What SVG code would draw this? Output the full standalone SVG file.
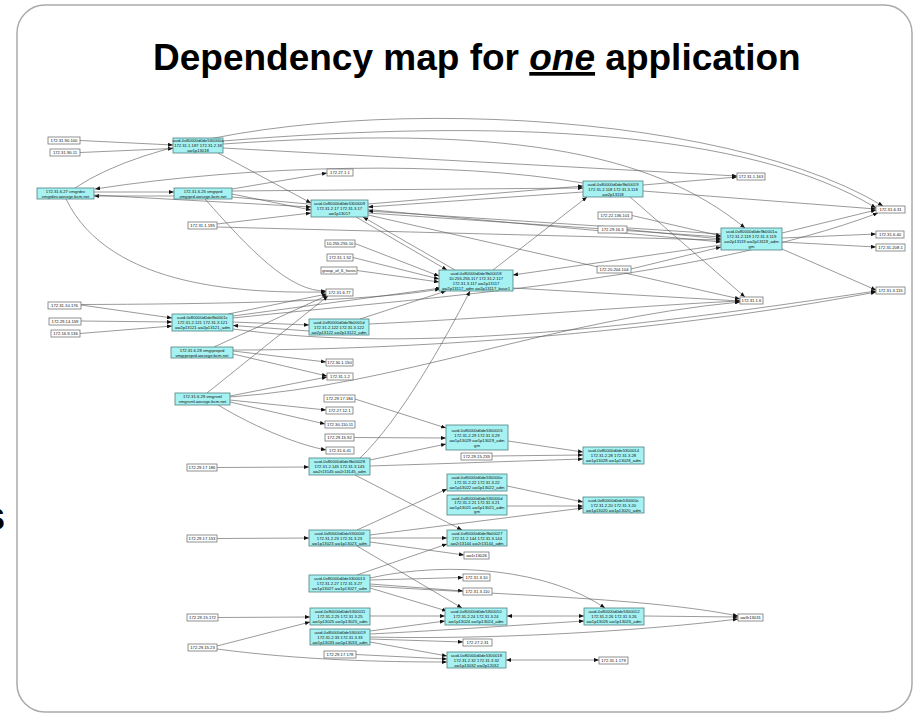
<svg xmlns="http://www.w3.org/2000/svg" width="914" height="715" viewBox="0 0 914 715">
<style>
.e{fill:none;stroke:#555;stroke-width:0.6;marker-end:url(#a)}
.b{marker-start:url(#s)}
.c rect{fill:#a6f1f1;stroke:#4f8282;stroke-width:0.8}
.w rect{fill:#fff;stroke:#777;stroke-width:0.8}
.c text,.w text{font-family:"Liberation Sans",Arial,sans-serif;font-size:4.2px;text-anchor:middle;fill:#111}
.t{font-family:"Liberation Sans",Arial,sans-serif;font-weight:bold;font-size:37px;fill:#000}
</style>
<defs>
<marker id="a" markerUnits="userSpaceOnUse" markerWidth="5" markerHeight="4" refX="5" refY="2" orient="auto"><path d="M0,0 L5,2 L0,4 z" fill="#111"/></marker>
<marker id="s" markerUnits="userSpaceOnUse" markerWidth="5" markerHeight="4" refX="0" refY="2" orient="auto"><path d="M5,0 L0,2 L5,4 z" fill="#111"/></marker>
</defs>
<rect x="0" y="0" width="914" height="715" fill="#fff"/>
<rect x="17" y="5" width="895" height="707" rx="28" fill="#fff" stroke="#aaa" stroke-width="1.5"/>
<text class="t" x="153" y="70">Dependency map for <tspan font-style="italic" text-decoration="underline">one</tspan> application</text>
<text x="-17" y="530" font-family="Liberation Sans, Arial, sans-serif" font-weight="bold" font-size="40">s</text>

<g id="connectors">
<path class="e" d="M80,140.5 L173,145"/>
<path class="e" d="M80,152.5 L173,148.5"/>
<path class="e" d="M218,153 L311,203"/>
<path class="e" d="M223,141 C500,118 750,130 876,208"/>
<path class="e" d="M223,144 C500,125 650,150 745,228"/>
<path class="e" d="M223,148 L737,176"/>
<path class="e" d="M75,188 C220,90 700,95 883,206"/>
<path class="e" d="M583,183 C450,160 250,165 95,189"/>
<path class="e" d="M94,192 L174,192"/>
<path class="e" d="M174,196 L94,196"/>
<path class="e" d="M94,195 L311,207"/>
<path class="e" d="M232,189 L327,173"/>
<path class="e" d="M232,191 L583,188"/>
<path class="e" d="M232,194 L311,210"/>
<path class="e" d="M232,197 L721,242"/>
<path class="e" d="M217,224 L311,213"/>
<path class="e" d="M217,227 L721,240"/>
<path class="e" d="M66,199 C110,290 250,293 326,292"/>
<path class="e" d="M205,199 C250,250 290,292 326,291"/>
<path class="e" d="M368,204 L583,186"/>
<path class="e" d="M583,192 L368,207"/>
<path class="e" d="M721,234 L368,211"/>
<path class="e" d="M368,213 L721,237"/>
<path class="e" d="M356,217 L447,270"/>
<path class="e" d="M455,270 L363,217"/>
<path class="e" d="M368,215 L740,299"/>
<path class="e" d="M355,243.5 L439,276"/>
<path class="e" d="M353,257.5 L439,279"/>
<path class="e" d="M357,270.5 L439,282"/>
<path class="e" d="M493,270 L587,197"/>
<path class="e" d="M721,245 L513,275"/>
<path class="e" d="M513,288 L740,301"/>
<path class="e" d="M632,215.5 L721,236"/>
<path class="e" d="M627,229.5 L721,239"/>
<path class="e" d="M631,269 L721,247"/>
<path class="e" d="M643,185 L737,177"/>
<path class="e" d="M643,191 L876,209"/>
<path class="e" d="M630,197 L745,297"/>
<path class="e" d="M782,233 L876,210"/>
<path class="e" d="M782,238 L876,234"/>
<path class="e" d="M782,242 L876,247"/>
<path class="e" d="M782,249 L876,290"/>
<path class="e" d="M233,318 C420,298 700,280 878,213"/>
<path class="e" d="M81,305 L172,318"/>
<path class="e" d="M81,321 L172,322"/>
<path class="e" d="M80,333.5 L172,326"/>
<path class="e" d="M81,304.5 C250,304 380,300 440,289"/>
<path class="e" d="M233,322 L309,325"/>
<path class="e" d="M309,331 L233,325.5"/>
<path class="e" d="M228,314 L327,294"/>
<path class="e" d="M233,316 L441,288"/>
<path class="e" d="M360,319 L446,291"/>
<path class="e" d="M369,324 C500,318 650,305 740,301"/>
<path class="e" d="M233,329 C420,355 650,325 876,291"/>
<path class="e" d="M214,347 L328,295"/>
<path class="e" d="M233,351 L326,362"/>
<path class="e" d="M233,354 L327,376"/>
<path class="e" d="M233,350 C400,350 650,335 876,292"/>
<path class="e" d="M207,393 L328,296"/>
<path class="e" d="M230,396 L327,377"/>
<path class="e" d="M230,397 C400,385 550,320 740,302"/>
<path class="e" d="M230,400 L326,410"/>
<path class="e" d="M230,402 L325,424"/>
<path class="e" d="M218,405 C260,430 300,445 326,450"/>
<path class="e" d="M355,399 L446,428"/>
<path class="e" d="M354,437.5 L446,438"/>
<path class="e" d="M370,460 L446,444"/>
<path class="e" d="M508,441 L583,452"/>
<path class="e" d="M492,456 L583,455"/>
<path class="e" d="M370,466 L583,459"/>
<path class="e" d="M360,458 C400,420 445,340 470,291"/>
<path class="e" d="M217,467.5 L309,467"/>
<path class="e" d="M355,475 L462,530"/>
<path class="e" d="M217,538.5 L309,538"/>
<path class="e" d="M357,530 L447,489"/>
<path class="e" d="M370,535 L583,508"/>
<path class="e" d="M370,538 L447,538"/>
<path class="e" d="M370,542 L464,555"/>
<path class="e" d="M357,546 L462,608"/>
<path class="e" d="M507,486 L583,502"/>
<path class="e" d="M507,506 L583,506"/>
<path class="e" d="M357,575 L447,544"/>
<path class="e" d="M370,578 C450,560 550,570 605,608"/>
<path class="e" d="M370,580 L463,577.5"/>
<path class="e" d="M370,584 L463,591"/>
<path class="e" d="M370,588 L447,611"/>
<path class="e" d="M370,586 C500,595 650,598 738,616"/>
<path class="e" d="M370,616 L445,616"/>
<path class="e" d="M218,617.5 L310,617"/>
<path class="e" d="M217,646 L310,622"/>
<path class="e" d="M217,649 C300,660 380,662 447,662"/>
<path class="e b" d="M507,616 L584,616"/>
<path class="e" d="M644,616 L738,617"/>
<path class="e" d="M370,631 L445,621"/>
<path class="e" d="M370,634 C450,630 520,625 584,621"/>
<path class="e" d="M370,637 C500,640 650,630 738,619"/>
<path class="e" d="M370,639 L463,642"/>
<path class="e" d="M370,642 L447,656"/>
<path class="e" d="M356,654.5 L447,659"/>
<path class="e b" d="M506,660 L599,660"/>
</g>

<g id="n_a1" class="w"><rect x="48" y="137" width="32" height="7"/><text x="64" y="142">172.31.90.100</text></g>
<g id="n_a2" class="w"><rect x="50" y="149" width="30" height="7"/><text x="65" y="154">172.31.90.11</text></g>
<g id="n_18" class="c"><rect x="173" y="138" width="50" height="15"/><text x="198" y="142">uuid-0x80000d0de530000a</text><text x="198" y="147">172.31.1.187 172.31.2.18</text><text x="198" y="152">aw1p13018</text></g>
<g id="n_dev" class="c"><rect x="37" y="188" width="57" height="11"/><text x="65.5" y="192.5">172.31.6.27 vmgrdev</text><text x="65.5" y="197.5">vmgrdev.awsege.bcm.net</text></g>
<g id="n_prd" class="c"><rect x="174" y="188" width="58" height="11"/><text x="203" y="192.5">172.31.6.25 vmgrprd</text><text x="203" y="197.5">vmgrprd.awsege.bcm.net</text></g>
<g id="n_b195" class="w"><rect x="188" y="222" width="29" height="7"/><text x="202.5" y="227">172.31.1.195</text></g>
<g id="n_17" class="c"><rect x="311" y="200" width="57" height="17"/><text x="339.5" y="205">uuid-0x80000d0de5300009</text><text x="339.5" y="210">172.31.2.17 172.31.3.17</text><text x="339.5" y="215">aw1p13017</text></g>
<g id="n_b271" class="w"><rect x="327" y="169" width="26" height="7"/><text x="340" y="174">172.27.1.1</text></g>
<g id="n_b255" class="w"><rect x="325" y="240" width="30" height="7"/><text x="340" y="245">10.255.255.10</text></g>
<g id="n_b152" class="w"><rect x="327" y="254" width="26" height="7"/><text x="340" y="259">172.31.1.52</text></g>
<g id="n_g6" class="w"><rect x="321" y="267" width="36" height="7"/><text x="339" y="272">group_of_6_hosts</text></g>
<g id="n_b677" class="w"><rect x="326" y="289" width="27" height="7"/><text x="339.5" y="294">172.31.6.77</text></g>
<g id="n_117" class="c"><rect x="439" y="270" width="74" height="21"/><text x="476" y="274.5">uuid-0x80000d0de9b00018</text><text x="476" y="279.5">10.255.255.117 172.31.2.117</text><text x="476" y="284.5">172.31.3.117 aw2p13117</text><text x="476" y="289.5">aw2p13117_adm aw2p13117_base1</text></g>
<g id="n_118" class="c"><rect x="583" y="181" width="60" height="16"/><text x="613" y="185.5">uuid-0x80000d0de9b00019</text><text x="613" y="190.5">172.31.2.118 172.31.3.118</text><text x="613" y="195.5">aw2p13118</text></g>
<g id="n_b163" class="w"><rect x="737" y="173" width="28" height="7"/><text x="751" y="178">172.31.1.163</text></g>
<g id="n_b136" class="w"><rect x="598" y="212" width="34" height="7"/><text x="615" y="217">172.22.136.101</text></g>
<g id="n_b163b" class="w"><rect x="598" y="226" width="29" height="7"/><text x="612.5" y="231">172.29.16.3</text></g>
<g id="n_119" class="c"><rect x="721" y="228" width="61" height="22"/><text x="751.5" y="233">uuid-0x80000d0de9b0001a</text><text x="751.5" y="238">172.31.2.119 172.31.3.119</text><text x="751.5" y="243">aw2p13119 aw2p13119_adm</text><text x="751.5" y="248">gm</text></g>
<g id="n_b204" class="w"><rect x="597" y="266" width="34" height="7"/><text x="614" y="271">172.20.204.104</text></g>
<g id="n_b631" class="w"><rect x="876" y="206" width="29" height="7"/><text x="890.5" y="211">172.31.6.31</text></g>
<g id="n_b640" class="w"><rect x="876" y="231" width="28" height="7"/><text x="890" y="236">172.31.6.40</text></g>
<g id="n_b208" class="w"><rect x="876" y="244" width="29" height="7"/><text x="890.5" y="249">172.31.208.1</text></g>
<g id="n_b3115" class="w"><rect x="876" y="287" width="29" height="7"/><text x="890.5" y="292">172.31.3.115</text></g>
<g id="n_b16" class="w"><rect x="740" y="297" width="23" height="7"/><text x="751.5" y="302">172.31.1.6</text></g>
<g id="n_b10176" class="w"><rect x="48" y="302" width="33" height="7"/><text x="64.5" y="307">172.31.10.176</text></g>
<g id="n_b14159" class="w"><rect x="49" y="318" width="32" height="7"/><text x="65" y="323">172.29.14.159</text></g>
<g id="n_b9136" class="w"><rect x="51" y="330" width="29" height="7"/><text x="65.5" y="335">172.16.9.136</text></g>
<g id="n_121" class="c"><rect x="172" y="314" width="61" height="17"/><text x="202.5" y="319">uuid-0x80000d0de9b0001c</text><text x="202.5" y="324">172.31.2.121 172.31.3.121</text><text x="202.5" y="329">aw2p13121 aw2p13121_adm</text></g>
<g id="n_122" class="c"><rect x="309" y="319" width="60" height="16"/><text x="339" y="323.5">uuid-0x80000d0de9b0001d</text><text x="339" y="328.5">172.31.2.122 172.31.3.122</text><text x="339" y="333.5">aw2p13122 aw2p13122_adm</text></g>
<g id="n_preprd" class="c"><rect x="171" y="347" width="62" height="11"/><text x="202" y="351.5">172.31.6.28 vmgrpreprd</text><text x="202" y="356.5">vmgrpreprd.awsege.bcm.net</text></g>
<g id="n_b150" class="w"><rect x="326" y="359" width="27" height="7"/><text x="339.5" y="364">172.30.1.150</text></g>
<g id="n_b12" class="w"><rect x="327" y="373" width="26" height="7"/><text x="340" y="378">172.31.1.2</text></g>
<g id="n_sml" class="c"><rect x="175" y="393" width="55" height="12"/><text x="202.5" y="397.5">172.31.6.29 vmgrsml</text><text x="202.5" y="402.5">vmgrsml.awsege.bcm.net</text></g>
<g id="n_b184" class="w"><rect x="324" y="395" width="31" height="7"/><text x="339.5" y="400">172.29.17.184</text></g>
<g id="n_b1221" class="w"><rect x="326" y="407" width="27" height="7"/><text x="339.5" y="412">172.27.12.1</text></g>
<g id="n_b110" class="w"><rect x="325" y="421" width="30" height="7"/><text x="340" y="426">172.30.110.11</text></g>
<g id="n_b1592" class="w"><rect x="325" y="434" width="29" height="7"/><text x="339.5" y="439">172.29.15.92</text></g>
<g id="n_29" class="c"><rect x="446" y="425" width="62" height="25"/><text x="477" y="432">uuid-0x80000d0de5300015</text><text x="477" y="437">172.31.2.29 172.31.3.29</text><text x="477" y="442">aw1p13029 aw1p13029_adm</text><text x="477" y="447">gm</text></g>
<g id="n_b641" class="w"><rect x="326" y="447" width="28" height="7"/><text x="340" y="452">172.31.6.41</text></g>
<g id="n_b233" class="w"><rect x="461" y="453" width="31" height="7"/><text x="476.5" y="458">172.29.15.233</text></g>
<g id="n_28" class="c"><rect x="583" y="447" width="61" height="17"/><text x="613.5" y="452">uuid-0x80000d0de5300014</text><text x="613.5" y="457">172.31.2.28 172.31.3.28</text><text x="613.5" y="462">aw1p13028 aw1p13028_adm</text></g>
<g id="n_b186" class="w"><rect x="187" y="464" width="30" height="7"/><text x="202" y="469">172.29.17.186</text></g>
<g id="n_145" class="c"><rect x="309" y="458" width="61" height="17"/><text x="339.5" y="463">uuid-0x80000d0de9b00028</text><text x="339.5" y="468">172.31.2.145 172.31.3.145</text><text x="339.5" y="473">aw2r13145 aw2r13145_adm</text></g>
<g id="n_22" class="c"><rect x="447" y="474" width="60" height="17"/><text x="477" y="479">uuid-0x80000d0de530000e</text><text x="477" y="484">172.31.2.22 172.31.3.22</text><text x="477" y="489">aw1p13022 aw1p13022_adm</text></g>
<g id="n_21" class="c"><rect x="447" y="495" width="60" height="20"/><text x="477" y="499.6">uuid-0x80000d0de530000d</text><text x="477" y="504.2">172.31.2.21 172.31.3.21</text><text x="477" y="508.8">aw1p13021 aw1p13021_adm</text><text x="477" y="513.2">gm</text></g>
<g id="n_20" class="c"><rect x="583" y="497" width="61" height="16"/><text x="613.5" y="501.5">uuid-0x80000d0de530000c</text><text x="613.5" y="506.5">172.31.2.20 172.31.3.20</text><text x="613.5" y="511.5">aw1p13020 aw1p13020_adm</text></g>
<g id="n_b153" class="w"><rect x="187" y="535" width="30" height="7"/><text x="202" y="540">172.29.17.153</text></g>
<g id="n_23" class="c"><rect x="309" y="530" width="61" height="16"/><text x="339.5" y="534.5">uuid-0x80000d0de530000f</text><text x="339.5" y="539.5">172.31.2.23 172.31.3.23</text><text x="339.5" y="544.5">aw1p13023 aw1p13023_adm</text></g>
<g id="n_144" class="c"><rect x="447" y="530" width="60" height="16"/><text x="477" y="534.5">uuid-0x80000d0de9b00027</text><text x="477" y="539.5">172.31.2.144 172.31.3.144</text><text x="477" y="544.5">aw2r13144 aw2r13144_adm</text></g>
<g id="n_w26" class="w"><rect x="464" y="552" width="25" height="7"/><text x="476.5" y="557">aw1r13026</text></g>
<g id="n_27" class="c"><rect x="309" y="575" width="61" height="17"/><text x="339.5" y="580">uuid-0x80000d0de5300013</text><text x="339.5" y="585">172.31.2.27 172.31.3.27</text><text x="339.5" y="590">aw1p13027 aw1p13027_adm</text></g>
<g id="n_b310" class="w"><rect x="463" y="574" width="27" height="7"/><text x="476.5" y="579">172.31.3.10</text></g>
<g id="n_b3110" class="w"><rect x="463" y="588" width="29" height="7"/><text x="477.5" y="593">172.31.3.110</text></g>
<g id="n_25" class="c"><rect x="310" y="608" width="60" height="17"/><text x="340" y="613">uuid-0x80000d0de5300011</text><text x="340" y="618">172.31.2.25 172.31.3.25</text><text x="340" y="623">aw1p13025 aw1p13025_adm</text></g>
<g id="n_b172" class="w"><rect x="187" y="614" width="31" height="7"/><text x="202.5" y="619">172.29.15.172</text></g>
<g id="n_24" class="c"><rect x="445" y="608" width="62" height="17"/><text x="476" y="613">uuid-0x80000d0de5300010</text><text x="476" y="618">172.31.2.24 172.31.3.24</text><text x="476" y="623">aw1p13024 aw1p13024_adm</text></g>
<g id="n_26" class="c"><rect x="584" y="608" width="60" height="17"/><text x="614" y="613">uuid-0x80000d0de5300012</text><text x="614" y="618">172.31.2.26 172.31.3.26</text><text x="614" y="623">aw1p13026 aw1p13026_adm</text></g>
<g id="n_w31" class="w"><rect x="738" y="614" width="25" height="7"/><text x="750.5" y="619">aw3r13031</text></g>
<g id="n_33" class="c"><rect x="310" y="629" width="60" height="16"/><text x="340" y="633.5">uuid-0x80000d0de5300019</text><text x="340" y="638.5">172.31.2.33 172.31.3.33</text><text x="340" y="643.5">aw1p13033 aw1p13033_adm</text></g>
<g id="n_b1523" class="w"><rect x="188" y="644" width="29" height="7"/><text x="202.5" y="649">172.29.15.23</text></g>
<g id="n_b231" class="w"><rect x="463" y="639" width="29" height="7"/><text x="477.5" y="644">172.27.2.31</text></g>
<g id="n_b178" class="w"><rect x="324" y="651" width="32" height="7"/><text x="340" y="656">172.29.17.178</text></g>
<g id="n_32" class="c"><rect x="447" y="652" width="59" height="16"/><text x="476.5" y="656.5">uuid-0x80000d0de5300018</text><text x="476.5" y="661.5">172.31.2.32 172.31.3.32</text><text x="476.5" y="666.5">aw1p13032 aw2p12032</text></g>
<g id="n_b179" class="w"><rect x="599" y="657" width="29" height="7"/><text x="613.5" y="662">172.31.1.179</text></g>
</svg>
